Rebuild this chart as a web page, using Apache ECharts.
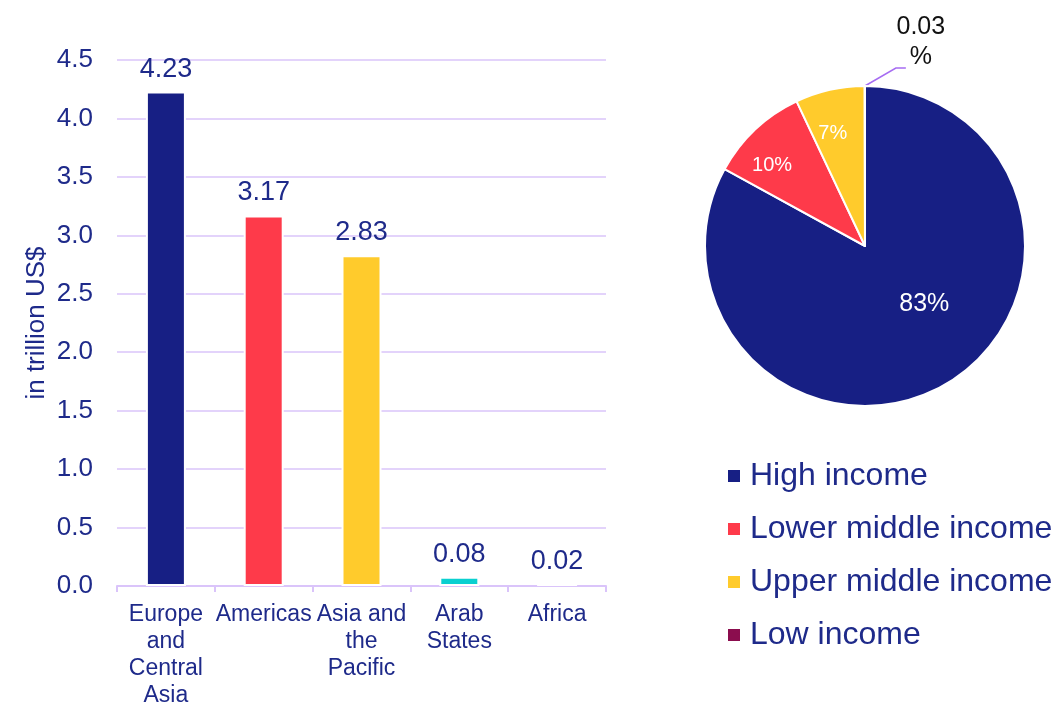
<!DOCTYPE html>
<html>
<head>
<meta charset="utf-8">
<title>Regions and income groups</title>
<script src="https://cdn.jsdelivr.net/npm/echarts@6/dist/echarts.min.js"></script>
<style>
  html, body { margin: 0; padding: 0; background: #ffffff; }
  #chart { width: 1064px; height: 704px; }
</style>
</head>
<body>
<div id="chart"></div>
<script>
// Value by region, in trillion US$
const regions = ['Europe\nand\nCentral\nAsia', 'Americas', 'Asia and\nthe\nPacific', 'Arab\nStates', 'Africa'];
const regionValues = [4.23, 3.17, 2.83, 0.08, 0.02];
const regionColors = ['#171f84', '#fe3a4a', '#ffcb2c', '#0ad0d0', '#8b0d4e'];

// Share by income group, in percent
const incomeGroups = ['High income', 'Lower middle income', 'Upper middle income', 'Low income'];
const incomeShares = [83, 10, 7, 0.03];
const incomeColors = ['#171f84', '#fe3a4a', '#ffcb2c', '#8b0d4e'];

// Value axis ticks
const yMin = 0, yMax = 4.5, yStep = 0.5;

const navy = '#1e2a8a';
const lavender = '#dac4fa';
const font = '"Liberation Sans", Arial, sans-serif';

// per-slice tweaks for the inside labels
const insideLabelStyle = [
  { fontSize: 25, offset: [17, -13] },
  { fontSize: 20, offset: [-36, -20] },
  { fontSize: 20, offset: [-14, -32] }
];

const pieData = incomeGroups.map((name, i) => {
  const item = { name, value: incomeShares[i], itemStyle: { color: incomeColors[i] } };
  if (i < 3) {
    item.label = Object.assign({ position: 'inside', color: '#ffffff' }, insideLabelStyle[i]);
  } else {
    item.label = {
      position: 'outside',
      color: '#111111',
      fontSize: 25,
      lineHeight: 30,
      formatter: p => p.value + '\n%'
    };
    item.labelLine = { show: true, length: 15, length2: 10, lineStyle: { color: '#a66cf2', width: 1.5 } };
  }
  return item;
});

const chart = echarts.init(document.getElementById('chart'), null, { renderer: 'canvas' });

chart.setOption({
  backgroundColor: '#ffffff',
  animation: false,
  textStyle: { fontFamily: font },
  grid: { left: 117, right: 458, top: 60, bottom: 118, containLabel: false, outerBoundsMode: 'none' },
  xAxis: {
    type: 'category',
    data: regions,
    axisLine: { lineStyle: { color: lavender, width: 2 } },
    axisTick: { show: true, length: 6, lineStyle: { color: lavender, width: 2 } },
    axisLabel: { color: navy, fontSize: 23, lineHeight: 27, margin: 15, interval: 0, fontFamily: font }
  },
  yAxis: {
    type: 'value',
    min: yMin,
    max: yMax,
    interval: yStep,
    name: 'in trillion US$',
    nameLocation: 'middle',
    nameRotate: 90,
    nameGap: 67,
    nameTextStyle: { color: navy, fontSize: 26, fontFamily: font },
    axisLine: { show: false },
    axisTick: { show: false },
    axisLabel: { color: navy, fontSize: 26, margin: 24, fontFamily: font, formatter: v => v.toFixed(1) },
    splitLine: { lineStyle: { color: lavender, width: 1.5 } }
  },
  legend: {
    orient: 'vertical',
    left: 721,
    top: 453,
    icon: 'rect',
    itemWidth: 14,
    itemHeight: 14,
    itemGap: 17,
    data: incomeGroups,
    textStyle: { color: navy, fontSize: 32, lineHeight: 36, fontFamily: font, padding: [0, 0, 0, 4] }
  },
  series: [
    {
      type: 'bar',
      data: regionValues.map((v, i) => ({ value: v, itemStyle: { color: regionColors[i] } })),
      barWidth: 40,
      itemStyle: { borderColor: '#ffffff', borderWidth: 2 },
      label: {
        show: true,
        position: 'top',
        distance: 9,
        color: navy,
        fontSize: 27,
        fontFamily: font,
        formatter: p => p.value.toFixed(2)
      }
    },
    {
      type: 'pie',
      center: [865, 246],
      radius: [0, 160],
      startAngle: 90,
      clockwise: true,
      avoidLabelOverlap: false,
      itemStyle: { borderColor: '#ffffff', borderWidth: 2 },
      label: { show: true, fontFamily: font, formatter: p => p.value + '%' },
      labelLine: { show: false },
      labelLayout: params => {
        const pts = params.labelLinePoints;
        if (params.dataIndex !== 3 || !pts) return {};
        const p = pts[0];
        return {
          x: p[0] + 56,
          y: p[1] - 44,
          align: 'center',
          verticalAlign: 'middle',
          labelLinePoints: [p, [p[0] + 31, p[1] - 18], [p[0] + 41, p[1] - 18]]
        };
      },
      data: pieData
    }
  ]
});
</script>
</body>
</html>
